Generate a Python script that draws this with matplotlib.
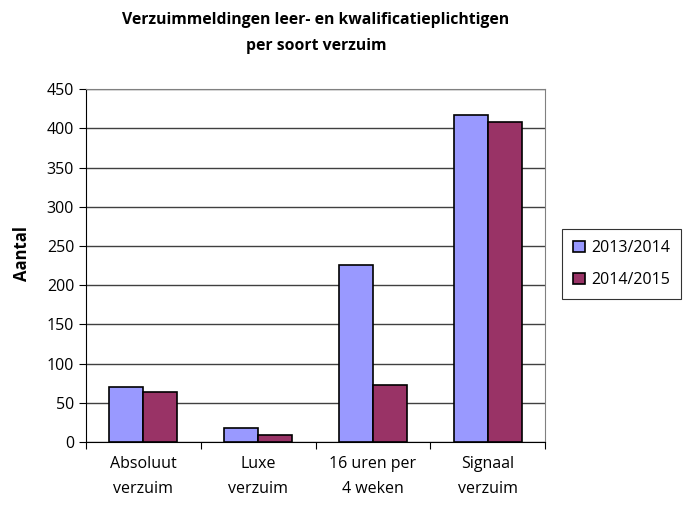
import matplotlib
matplotlib.use("Agg")
import matplotlib.pyplot as plt
import numpy as np

categories = ["Absoluut\nverzuim", "Luxe\nverzuim", "16 uren per\n4 weken", "Signaal\nverzuim"]
series_names = ["2013/2014", "2014/2015"]
v2013 = [70, 18, 226, 417]
v2014 = [64, 9, 73, 408]
yticks = [0, 50, 100, 150, 200, 250, 300, 350, 400, 450]

plt.rcParams['font.family'] = ['Open Sans', 'DejaVu Sans']

fig = plt.figure(figsize=(6.84, 5.09), dpi=100)
ax = fig.add_axes([0.1257, 0.1316, 0.6713, 0.6934])

x = np.arange(len(categories))
w = 0.296
ax.bar(x - w/2, v2013, w, color="#9999FF", edgecolor="black", linewidth=1.2, label=series_names[0], zorder=3)
ax.bar(x + w/2, v2014, w, color="#993366", edgecolor="black", linewidth=1.2, label=series_names[1], zorder=3)

ax.set_xlim(-0.5, len(categories) - 0.5)
ax.set_ylim(0, 450)
ax.set_yticks(yticks)
ax.set_yticklabels([str(t) for t in yticks], fontsize=11.5)
ax.yaxis.grid(True, color="#404040", linewidth=1, zorder=0)

ax.set_xticks(np.arange(len(categories) + 1) - 0.5)
ax.set_xticklabels([])
ax.set_xticks(x, minor=True)
ax.set_xticklabels(categories, minor=True, fontsize=11.5, linespacing=1.75)
ax.tick_params(axis='x', which='minor', length=0, pad=10)
ax.tick_params(axis='x', which='major', length=5, direction='out', color='black')
ax.tick_params(axis='y', length=5, direction='out', color='black')

for s in ["top", "right"]:
    ax.spines[s].set_color("#808080")
for s in ["left", "bottom"]:
    ax.spines[s].set_color("black")

ax.set_ylabel("Aantal", fontsize=12, fontweight="bold")
ax.yaxis.set_label_coords(-0.12, 0.533)

fig.text(0.462, 0.935, "Verzuimmeldingen leer- en kwalificatieplichtigen\nper soort verzuim",
         ha="center", va="center", fontsize=11.3, fontweight="bold", linespacing=1.9)

leg = fig.legend(loc="center left", bbox_to_anchor=(0.822, 0.481), frameon=True, fancybox=False,
                 edgecolor="black", fontsize=11.5, handlelength=0.7, handleheight=0.7,
                 handletextpad=0.4, labelspacing=1.0, borderpad=0.7, borderaxespad=0)
leg.get_frame().set_linewidth(0.8)

fig.savefig("out.png", dpi=100)
